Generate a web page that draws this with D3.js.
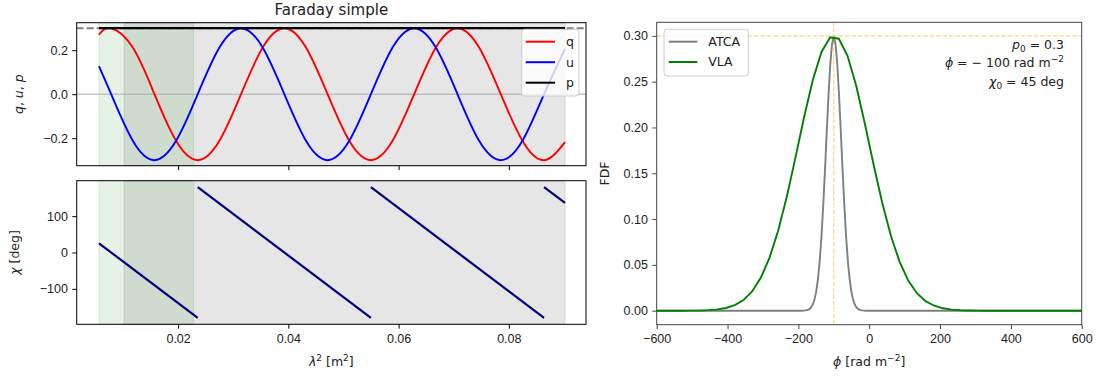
<!DOCTYPE html>
<html>
<head>
<meta charset="utf-8">
<script src="https://cdn.jsdelivr.net/npm/d3@7"></script>
<style>
  body { margin: 0; background: #fff; }
  svg { font-family: "DejaVu Sans", sans-serif; }
</style>
</head>
<body>
<svg id="fig" width="1101" height="379"></svg>
<script>
// Stokes q, u against lambda^2
const lam2 = [0.00564, 0.00785, 0.01178, 0.01571, 0.01963, 0.02356, 0.02749, 0.03142, 0.03534, 0.03927, 0.04320, 0.04712,
  0.05105, 0.05498, 0.05890, 0.06283, 0.06676, 0.07069, 0.07461, 0.07854, 0.08247, 0.08639, 0.0902];
const qVals = [0.271, 0.30, 0.212, 0, -0.212, -0.30, -0.212, 0, 0.212, 0.30, 0.212, 0,
  -0.212, -0.30, -0.212, 0, 0.212, 0.30, 0.212, 0, -0.212, -0.30, -0.218];
const uVals = [0.128, 0, -0.212, -0.30, -0.212, 0, 0.212, 0.30, 0.212, 0, -0.212, -0.30,
  -0.212, 0, 0.212, 0.30, 0.212, 0, -0.212, -0.30, -0.212, 0, 0.206];
const pLam2 = [0.00564, 0.0902];
const pVals = [0.3, 0.3];
const p0 = 0.3;

// polarisation angle, one entry per wrapped segment
const chiLam2 = [[0.00564, 0.02356], [0.02356, 0.05498], [0.05498, 0.08639], [0.08639, 0.0902]];
const chiDeg = [[25.4, -180], [180, -180], [180, -180], [180, 136.4]];

// observing bands in lambda^2
const atcaBand = [0.0102, 0.0902];
const vlaBand = [0.00564, 0.02278];

// Faraday dispersion functions
const phiVLA = [-600, -575.5, -551.0, -526.5, -502.0, -477.6, -453.1, -428.6, -404.1, -379.6, -355.1, -330.6, -306.1,
  -281.6, -257.1, -232.7, -208.2, -183.7, -159.2, -134.7, -110.2, -85.7, -61.2, -36.7, -12.2, 12.2, 36.7, 61.2,
  85.7, 110.2, 134.7, 159.2, 183.7, 208.2, 232.7, 257.1, 281.6, 306.1, 330.6, 355.1, 379.6, 404.1, 428.6, 453.1,
  477.6, 502.0, 526.5, 551.0, 575.5, 600];
const fdfVLA = [0, 0, 0, 0, 0.0001, 0.0002, 0.0006, 0.0014, 0.0029, 0.0060, 0.0116, 0.0210, 0.0359, 0.0577, 0.0873,
  0.1244, 0.1671, 0.2114, 0.2518, 0.2825, 0.2984, 0.2969, 0.2782, 0.2455, 0.2041, 0.1599, 0.1179, 0.0818, 0.0535,
  0.0329, 0.0191, 0.0104, 0.0054, 0.0026, 0.0012, 0.0005, 0.0002, 0.0001, 0, 0, 0, 0, 0, 0, 0, 0, 0, 0, 0, 0];
const phiATCA = [-600, -190, -185, -180, -175, -170, -165, -160, -155, -150, -145, -140, -135, -130, -125, -120, -115,
  -110, -105, -100, -95, -90, -85, -80, -75, -70, -65, -60, -55, -50, -45, -40, -35, -30, -25, -20, -15, -10, 600];
const fdfATCA = [0, 0, 0.0001, 0.0003, 0.0007, 0.0015, 0.0031, 0.0061, 0.0113, 0.0200, 0.0335, 0.0530, 0.0795, 0.1130,
  0.1521, 0.1940, 0.2344, 0.2684, 0.2910, 0.299, 0.2910, 0.2684, 0.2344, 0.1940, 0.1521, 0.1130, 0.0795, 0.0530,
  0.0335, 0.0200, 0.0113, 0.0061, 0.0031, 0.0015, 0.0007, 0.0003, 0.0001, 0, 0];
const phiTrue = -100;

const lamTicks = [0.02, 0.04, 0.06, 0.08];
const qupTicks = [-0.2, 0, 0.2];
const chiTicks = [-100, 0, 100];
const phiTicks = [-600, -400, -200, 0, 200, 400, 600];
const fdfTicks = [0, 0.05, 0.1, 0.15, 0.2, 0.25, 0.3];

const svg = d3.select("#fig");
const FS = 12.5;

// Scales
const xL = d3.scaleLinear().domain([0.0016, 0.0940]).range([76.7, 586]);
const yTop = d3.scaleLinear().domain([-0.325, 0.325]).range([165.7, 22.7]);
const yBot = d3.scaleLinear().domain([-197.5, 197.5]).range([324.3, 180.7]);
const xR = d3.scaleLinear().domain([-600, 600]).range([656.7, 1081.7]);
const yR = d3.scaleLinear().domain([-0.0153, 0.3148]).range([324.7, 22.3]);

function bands(y) {
  const g = svg.append("g");
  g.append("rect")
    .attr("x", xL(atcaBand[0])).attr("width", xL(atcaBand[1]) - xL(atcaBand[0]))
    .attr("y", y.range()[1]).attr("height", y.range()[0] - y.range()[1])
    .attr("fill", "gray").attr("fill-opacity", 0.2)
    .attr("stroke", "gray").attr("stroke-opacity", 0.25);
  g.append("rect")
    .attr("x", xL(vlaBand[0])).attr("width", xL(vlaBand[1]) - xL(vlaBand[0]))
    .attr("y", y.range()[1]).attr("height", y.range()[0] - y.range()[1])
    .attr("fill", "green").attr("fill-opacity", 0.1)
    .attr("stroke", "green").attr("stroke-opacity", 0.12);
}

function axes(x, y, xt, yt, xfmt, yfmt, color) {
  const gx = svg.append("g")
    .attr("transform", `translate(0,${y.range()[0]})`)
    .call(d3.axisBottom(x).tickValues(xt).tickSize(4.4).tickPadding(5.5).tickFormat(xfmt));
  const gy = svg.append("g")
    .attr("transform", `translate(${x.range()[0]},0)`)
    .call(d3.axisLeft(y).tickValues(yt).tickSize(4.4).tickPadding(4.4).tickFormat(yfmt));
  [gx, gy].forEach((g) => {
    g.select(".domain").remove();
    g.selectAll("line").attr("stroke", color);
    g.selectAll("text").attr("fill", "#222").style("font-size", FS + "px").attr("font-family", null);
  });
  svg.append("rect")
    .attr("x", x.range()[0]).attr("y", y.range()[1])
    .attr("width", x.range()[1] - x.range()[0]).attr("height", y.range()[0] - y.range()[1])
    .attr("fill", "none").attr("stroke", color).attr("stroke-width", 1);
}

// ---- top left: q, u, p ----
bands(yTop);
svg.append("line")
  .attr("x1", xL.range()[0]).attr("x2", xL.range()[1])
  .attr("y1", yTop(0)).attr("y2", yTop(0))
  .attr("stroke", "#aaa").attr("stroke-width", 1);
svg.append("line")
  .attr("x1", xL.range()[0]).attr("x2", xL.range()[1])
  .attr("y1", yTop(p0)).attr("y2", yTop(p0))
  .attr("stroke", "gray").attr("stroke-width", 1.9).attr("stroke-dasharray", "7,3");

const smooth = (vals) => d3.line()
  .x((d, i) => xL(lam2[i]))
  .y((d) => yTop(d))
  .curve(d3.curveNatural)(vals);

svg.append("path").attr("d", smooth(qVals)).attr("fill", "none").attr("stroke", "red").attr("stroke-width", 1.9);
svg.append("path").attr("d", smooth(uVals)).attr("fill", "none").attr("stroke", "blue").attr("stroke-width", 1.9);
svg.append("path")
  .attr("d", d3.line().x((d, i) => xL(pLam2[i])).y((d) => yTop(d))(pVals))
  .attr("fill", "none").attr("stroke", "black").attr("stroke-width", 2.2);

axes(xL, yTop, lamTicks, qupTicks, () => "", d3.format(".1f"), "#000");

// legend q u p
{
  const g = svg.append("g");
  g.append("rect").attr("x", 521.7).attr("y", 29.3).attr("width", 57.3).attr("height", 66.7)
    .attr("rx", 3).attr("fill", "white").attr("fill-opacity", 0.8).attr("stroke", "#ccc");
  [["q", "red"], ["u", "blue"], ["p", "black"]].forEach(([t, c], i) => {
    const yy = 41.7 + i * 20.5;
    g.append("line").attr("x1", 525.7).attr("x2", 555).attr("y1", yy).attr("y2", yy)
      .attr("stroke", c).attr("stroke-width", 2);
    g.append("text").attr("x", 566).attr("y", yy).attr("dy", "0.35em")
      .style("font-size", FS + "px").attr("fill", "#222").text(t);
  });
}

svg.append("text").attr("x", 331.3).attr("y", 15).attr("text-anchor", "middle")
  .style("font-size", "15px").attr("fill", "#222").text("Faraday simple");

{
  const t = svg.append("text").attr("transform", "translate(23,94.2) rotate(-90)")
    .attr("text-anchor", "middle").style("font-size", FS + "px").attr("fill", "#222");
  t.append("tspan").attr("font-style", "italic").text("q");
  t.append("tspan").text(", ");
  t.append("tspan").attr("font-style", "italic").text("u");
  t.append("tspan").text(", ");
  t.append("tspan").attr("font-style", "italic").text("p");
}

// ---- bottom left: chi ----
bands(yBot);
chiLam2.forEach((seg, i) => {
  svg.append("path")
    .attr("d", d3.line().x((d) => xL(d)).y((d, j) => yBot(chiDeg[i][j]))(seg))
    .attr("fill", "none").attr("stroke", "navy").attr("stroke-width", 2.2);
});
axes(xL, yBot, lamTicks, chiTicks, d3.format(".2f"), d3.format("d"), "#000");

{
  const t = svg.append("text").attr("transform", "translate(19,252.5) rotate(-90)")
    .attr("text-anchor", "middle").style("font-size", FS + "px").attr("fill", "#222");
  t.append("tspan").attr("font-style", "italic").text("χ");
  t.append("tspan").text(" [deg]");
}
{
  const t = svg.append("text").attr("x", 331.3).attr("y", 366)
    .attr("text-anchor", "middle").style("font-size", FS + "px").attr("fill", "#222");
  t.append("tspan").attr("font-style", "italic").text("λ");
  t.append("tspan").attr("dy", -5).style("font-size", "9px").text("2");
  t.append("tspan").attr("dy", 5).text(" [m");
  t.append("tspan").attr("dy", -5).style("font-size", "9px").text("2");
  t.append("tspan").attr("dy", 5).text("]");
}

// ---- right: FDF ----
svg.append("line")
  .attr("x1", xR.range()[0]).attr("x2", xR.range()[1])
  .attr("y1", yR(p0)).attr("y2", yR(p0))
  .attr("stroke", "orange").attr("stroke-opacity", 0.5).attr("stroke-width", 1.2).attr("stroke-dasharray", "4.5,2");
svg.append("line")
  .attr("x1", xR(phiTrue)).attr("x2", xR(phiTrue))
  .attr("y1", yR.range()[0]).attr("y2", yR.range()[1])
  .attr("stroke", "orange").attr("stroke-opacity", 0.5).attr("stroke-width", 1.2).attr("stroke-dasharray", "4.5,2");

svg.append("path")
  .attr("d", d3.line().x((d, i) => xR(phiATCA[i])).y((d) => yR(d))(fdfATCA))
  .attr("fill", "none").attr("stroke", "gray").attr("stroke-width", 1.9);
svg.append("path")
  .attr("d", d3.line().x((d, i) => xR(phiVLA[i])).y((d) => yR(d))(fdfVLA))
  .attr("fill", "none").attr("stroke", "green").attr("stroke-width", 1.9);

axes(xR, yR, phiTicks, fdfTicks, d3.format("d"), d3.format(".2f"), "#444");

// legend ATCA / VLA
{
  const g = svg.append("g");
  g.append("rect").attr("x", 664).attr("y", 29.3).attr("width", 84.3).attr("height", 46.7)
    .attr("rx", 3).attr("fill", "white").attr("fill-opacity", 0.8).attr("stroke", "#ccc");
  [["ATCA", "gray"], ["VLA", "green"]].forEach(([t, c], i) => {
    const yy = 41.7 + i * 20.3;
    g.append("line").attr("x1", 668.7).attr("x2", 697.3).attr("y1", yy).attr("y2", yy)
      .attr("stroke", c).attr("stroke-width", 2);
    g.append("text").attr("x", 708.3).attr("y", yy).attr("dy", "0.35em")
      .style("font-size", FS + "px").attr("fill", "#222").text(t);
  });
}

// parameter annotation
{
  const g = svg.append("g").style("font-size", FS + "px").attr("fill", "#222").attr("text-anchor", "end");
  const t1 = g.append("text").attr("x", 1064).attr("y", 48.5);
  t1.append("tspan").attr("font-style", "italic").text("p");
  t1.append("tspan").attr("dy", 3).style("font-size", "9px").text("0");
  t1.append("tspan").attr("dy", -3).text(" = 0.3");
  const t2 = g.append("text").attr("x", 1064).attr("y", 67.2);
  t2.append("tspan").attr("font-style", "italic").text("ϕ");
  t2.append("tspan").text(" = \u2212 100 rad m");
  t2.append("tspan").attr("dy", -5).style("font-size", "9px").text("\u22122");
  const t3 = g.append("text").attr("x", 1064).attr("y", 86);
  t3.append("tspan").attr("font-style", "italic").text("χ");
  t3.append("tspan").attr("dy", 3).style("font-size", "9px").text("0");
  t3.append("tspan").attr("dy", -3).text(" = 45 deg");
}

svg.append("text").attr("transform", "translate(609,173.5) rotate(-90)")
  .attr("text-anchor", "middle").style("font-size", FS + "px").attr("fill", "#222").text("FDF");
{
  const t = svg.append("text").attr("x", 869.2).attr("y", 366)
    .attr("text-anchor", "middle").style("font-size", FS + "px").attr("fill", "#222");
  t.append("tspan").attr("font-style", "italic").text("ϕ");
  t.append("tspan").text(" [rad m");
  t.append("tspan").attr("dy", -5).style("font-size", "9px").text("\u22122");
  t.append("tspan").attr("dy", 5).text("]");
}
</script>
</body>
</html>
